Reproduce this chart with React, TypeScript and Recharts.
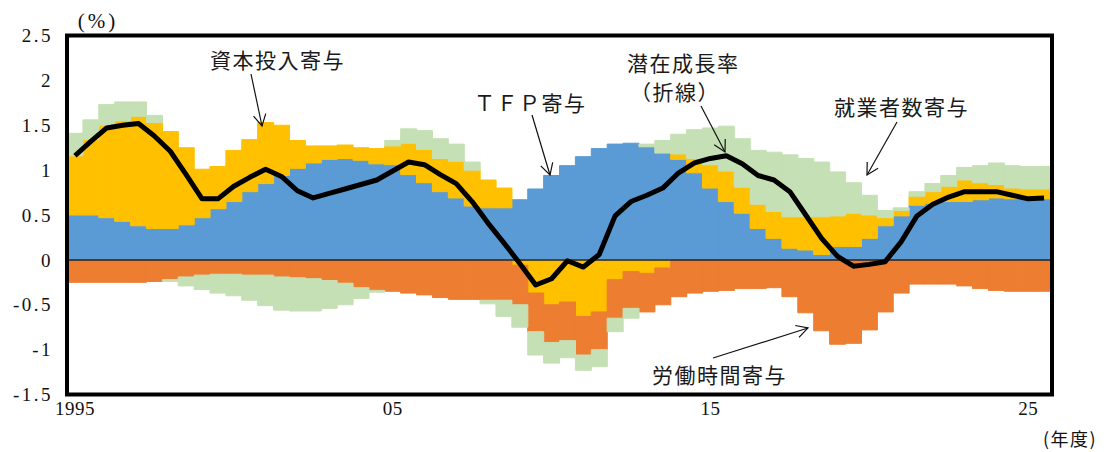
import React from "react";
import { ComposedChart, Bar, Line, XAxis, YAxis, ReferenceLine } from "recharts";

// 半期ごとの寄与度（%）
const years = [
  1995, 1996, 1997, 1998, 1999, 2000, 2001, 2002, 2003, 2004, 2005,
  2006, 2007, 2008, 2009, 2010, 2011, 2012, 2013, 2014, 2015, 2016,
  2017, 2018, 2019, 2020, 2021, 2022, 2023, 2024, 2025,
];
const periods = years.flatMap((y) => [`${y}上`, `${y}下`]);

const tfp = [
  0.5, 0.5, 0.47, 0.43, 0.38, 0.35, 0.35, 0.39, 0.47, 0.57,
  0.65, 0.76, 0.85, 0.94, 1.02, 1.08, 1.12, 1.13, 1.11, 1.07,
  1.06, 0.95, 0.86, 0.76, 0.69, 0.6, 0.58, 0.58, 0.67, 0.79,
  0.94, 1.05, 1.15, 1.24, 1.29, 1.3, 1.26, 1.19, 1.12, 0.97,
  0.8, 0.65, 0.52, 0.35, 0.24, 0.13, 0.11, 0.06, 0.15, 0.15,
  0.24, 0.38, 0.49, 0.61, 0.63, 0.65, 0.65, 0.67, 0.69, 0.68,
  0.68, 0.68,
];
const capital = [
  0.66, 0.84, 1.03, 1.12, 1.22, 1.18, 1.08, 0.86, 0.54, 0.47,
  0.57, 0.58, 0.68, 0.56, 0.31, 0.19, 0.15, 0.15, 0.14, 0.17,
  0.21, 0.35, 0.37, 0.37, 0.41, 0.4, 0.31, 0.22, -0.06, -0.37,
  -0.5, -0.47, -0.63, -0.58, -0.22, -0.13, -0.15, -0.09, 0.06, 0.16,
  0.26, 0.34, 0.29, 0.27, 0.3, 0.35, 0.37, 0.42, 0.34, 0.37,
  0.26, 0.09, 0.06, 0.1, 0.13, 0.17, 0.24, 0.19, 0.15, 0.12,
  0.11, 0.11,
];
const hours = [
  -0.25, -0.25, -0.25, -0.25, -0.25, -0.24, -0.22, -0.19, -0.17, -0.16,
  -0.16, -0.17, -0.17, -0.19, -0.2, -0.21, -0.23, -0.26, -0.31, -0.34,
  -0.35, -0.37, -0.39, -0.42, -0.44, -0.44, -0.45, -0.45, -0.44, -0.43,
  -0.42, -0.43, -0.43, -0.42, -0.43, -0.41, -0.43, -0.41, -0.41, -0.37,
  -0.35, -0.34, -0.32, -0.32, -0.31, -0.41, -0.59, -0.79, -0.94, -0.93,
  -0.78, -0.58, -0.37, -0.27, -0.27, -0.27, -0.29, -0.32, -0.34, -0.35,
  -0.35, -0.35,
];
const employment = [
  0.25, 0.22, 0.23, 0.21, 0.16, 0.08, -0.02, -0.1, -0.16, -0.21,
  -0.24, -0.28, -0.34, -0.37, -0.37, -0.36, -0.31, -0.24, -0.12, -0.02,
  0.06, 0.16, 0.21, 0.22, 0.19, 0.09, -0.04, -0.18, -0.25, -0.26,
  -0.23, -0.19, -0.17, -0.19, -0.15, -0.11, 0.03, 0.14, 0.22, 0.32,
  0.41, 0.5, 0.54, 0.6, 0.66, 0.69, 0.65, 0.61, 0.49, 0.34,
  0.22, 0.08, 0.03, 0.05, 0.09, 0.12, 0.14, 0.19, 0.24, 0.25,
  0.25, 0.25,
];
// 潜在成長率（折線）
const potential = [
  1.16, 1.32, 1.47, 1.5, 1.52, 1.38, 1.21, 0.95, 0.68, 0.68,
  0.82, 0.92, 1.01, 0.93, 0.77, 0.69, 0.74, 0.79, 0.84, 0.89,
  0.99, 1.09, 1.06, 0.95, 0.85, 0.65, 0.41, 0.19, -0.04, -0.28,
  -0.21, -0.01, -0.08, 0.06, 0.49, 0.65, 0.72, 0.8, 0.97, 1.08,
  1.13, 1.16, 1.07, 0.94, 0.89, 0.76, 0.5, 0.24, 0.04, -0.07,
  -0.05, -0.02, 0.2, 0.49, 0.62, 0.7, 0.76, 0.76, 0.76, 0.72,
  0.68, 0.69,
];

const xTicks = ["1995上", "2005上", "2015上", "2025上"];
const xTickLabels = ["1995", "05", "15", "25"];
const yTicks = [-1.5, -1, -0.5, 0, 0.5, 1, 1.5, 2, 2.5];

const rows = periods.map((period, i) => ({
  period,
  tfp: tfp[i],
  capital: capital[i],
  hours: hours[i],
  employment: employment[i],
  potential: potential[i],
}));

const BLUE = "#5B9BD5";
const YELLOW = "#FFC000";
const ORANGE = "#ED7D31";
const GREEN = "#C5E0B4";

const W = 1115;
const H = 452;
const PLOT = { left: 67, top: 35.5, right: 1052, bottom: 394.5 };

const serif = "Liberation Serif";
const jp = "Noto Sans CJK JP";

function XTick({ x, y, payload }: any) {
  const idx = xTicks.indexOf(payload.value);
  if (idx < 0) return null;
  return (
    <text x={x} y={y + 20} textAnchor="middle" fontFamily={serif} fontSize={19} fill="#111" letterSpacing={0.5}>
      {xTickLabels[idx]}
    </text>
  );
}

function YTick({ x, y, payload }: any) {
  return (
    <text x={x} y={y} dy="0.35em" textAnchor="end" fontFamily={serif} fontSize={19} fill="#111" letterSpacing={2.5}>
      {String(payload.value)}
    </text>
  );
}

function Arrow({ x1, y1, x2, y2 }: { x1: number; y1: number; x2: number; y2: number }) {
  const a = Math.atan2(y2 - y1, x2 - x1);
  const len = 13;
  const spread = 0.5;
  const p1 = [x2 - len * Math.cos(a - spread), y2 - len * Math.sin(a - spread)];
  const p2 = [x2 - len * Math.cos(a + spread), y2 - len * Math.sin(a + spread)];
  return (
    <g stroke="#111" strokeWidth={1.2} fill="none">
      <line x1={x1} y1={y1} x2={x2} y2={y2} />
      <polyline points={`${p1[0]},${p1[1]} ${x2},${y2} ${p2[0]},${p2[1]}`} />
    </g>
  );
}

const labelStyle = { fontFamily: jp, fontSize: 21, fill: "#1a1a1a", letterSpacing: 1.5 };

export default function App() {
  return (
    <div style={{ position: "absolute", left: 0, top: 0, width: W, height: H, background: "#fff" }}>
      <ComposedChart
        width={W}
        height={H}
        data={rows}
        stackOffset="sign"
        barCategoryGap={0}
        barGap={0}
        margin={{ top: PLOT.top, right: W - PLOT.right, bottom: 0, left: 0 }}
      >
        <XAxis
          dataKey="period"
          ticks={xTicks}
          interval={0}
          axisLine={false}
          tickLine={false}
          tickSize={0}
          tickMargin={0}
          height={H - PLOT.bottom}
          tick={<XTick />}
        />
        <YAxis
          type="number"
          domain={[-1.5, 2.5]}
          ticks={yTicks}
          interval={0}
          allowDataOverflow
          axisLine={false}
          tickLine={false}
          tickSize={0}
          tickMargin={14}
          width={PLOT.left}
          tick={<YTick />}
        />
        {/* stroke in the fill colour hides the hairline seams between bars */}
        <Bar dataKey="tfp" stackId="a" fill={BLUE} stroke={BLUE} strokeWidth={1} isAnimationActive={false} />
        <Bar dataKey="capital" stackId="a" fill={YELLOW} stroke={YELLOW} strokeWidth={1} isAnimationActive={false} />
        <Bar dataKey="hours" stackId="a" fill={ORANGE} stroke={ORANGE} strokeWidth={1} isAnimationActive={false} />
        <Bar dataKey="employment" stackId="a" fill={GREEN} stroke={GREEN} strokeWidth={1} isAnimationActive={false} />
        <ReferenceLine y={0} stroke="#222" strokeWidth={1.5} />
        <Line
          type="linear"
          dataKey="potential"
          stroke="#000"
          strokeWidth={5}
          strokeLinejoin="round"
          dot={false}
          activeDot={false}
          isAnimationActive={false}
        />
      </ComposedChart>

      <svg width={W} height={H} style={{ position: "absolute", left: 0, top: 0, pointerEvents: "none" }}>
        {/* plot frame */}
        <rect
          x={PLOT.left}
          y={PLOT.top}
          width={PLOT.right - PLOT.left}
          height={PLOT.bottom - PLOT.top}
          fill="none"
          stroke="#000"
          strokeWidth={4}
        />
        <text x={98} y={21} dy="0.35em" textAnchor="middle" fontFamily={serif} fontSize={21} fill="#111" letterSpacing={3}>
          (%)
        </text>
        <text x={1043} y={440} dy="0.35em" fontFamily={jp} fontSize={18} fill="#111" letterSpacing={1.5}>
          (年度)
        </text>

        <text x={210} y={61} dy="0.35em" {...labelStyle}>資本投入寄与</text>
        <Arrow x1={251} y1={74} x2={262} y2={126} />

        <text x={474} y={104} dy="0.35em" {...labelStyle}>ＴＦＰ寄与</text>
        <Arrow x1={532} y1={115} x2={550} y2={175} />

        <text x={627} y={64} dy="0.35em" {...labelStyle}>潜在成長率</text>
        <text x={630} y={93} dy="0.35em" {...labelStyle}>（折線）</text>
        <Arrow x1={701} y1={106} x2={725} y2={152} />

        <text x={834} y={108} dy="0.35em" {...labelStyle}>就業者数寄与</text>
        <Arrow x1={897} y1={122} x2={867} y2={175} />

        <text x={652} y={376} dy="0.35em" {...labelStyle}>労働時間寄与</text>
        <Arrow x1={713} y1={358} x2={808} y2={328} />
      </svg>
    </div>
  );
}
